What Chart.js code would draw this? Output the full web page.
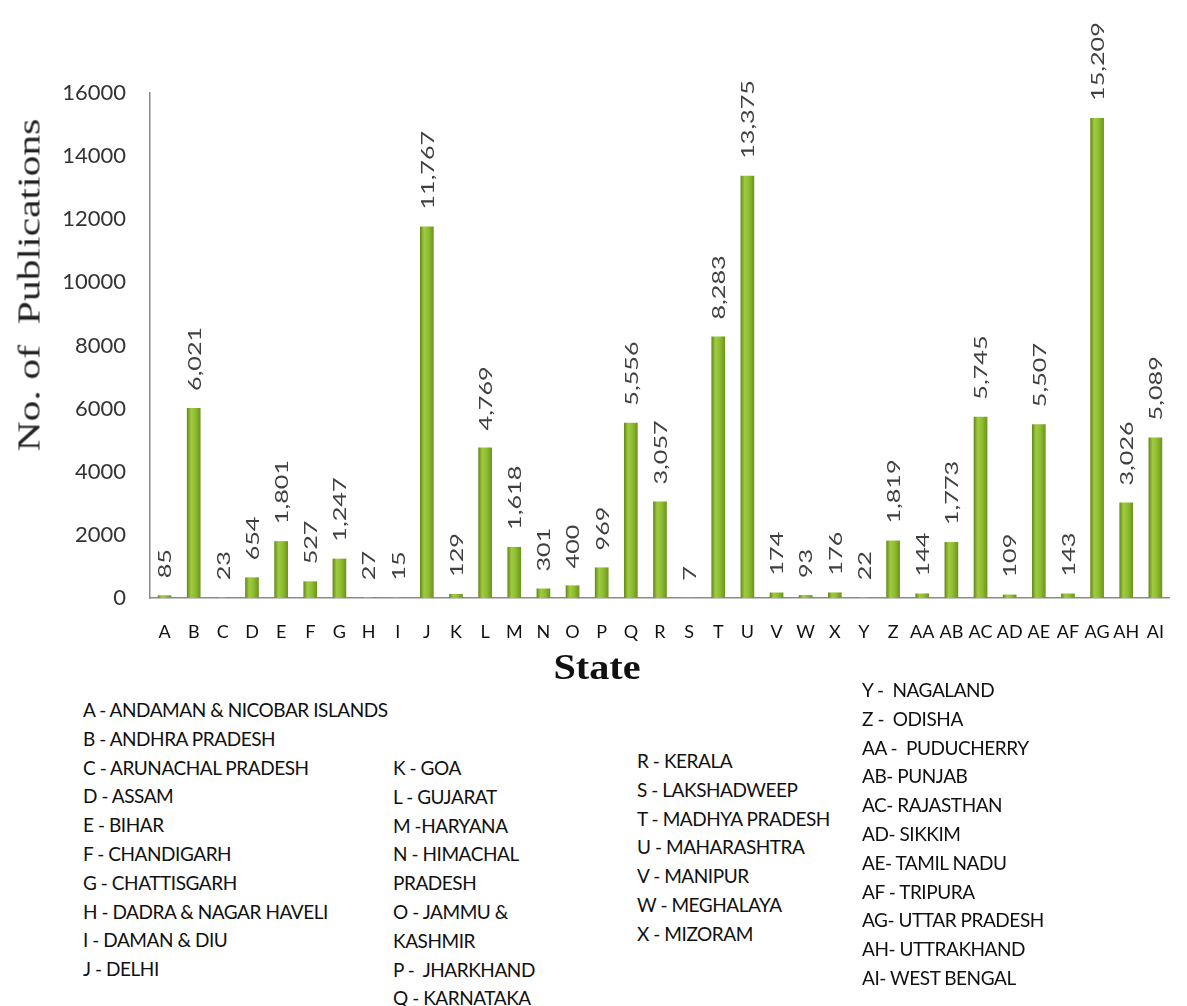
<!DOCTYPE html>
<html>
<head>
<meta charset="utf-8">
<script src="https://cdn.jsdelivr.net/npm/chart.js@4.4.1/dist/chart.umd.min.js"></script>
<style>
  body { margin: 0; background: #fff; width: 1187px; height: 1006px; overflow: hidden; position: relative; }
  #wrap { position: absolute; left: 0; top: 0; width: 1187px; height: 690px; }
  .key { position: absolute; font-family: Lato, "Open Sans", sans-serif; font-size: 19px; color: #111;
         letter-spacing: -0.45px; line-height: 28.8px; white-space: pre; }
  .title { position: absolute; white-space: pre; font-family: "Liberation Serif", serif; color: #111; }
  #yTitle { left: 29px; top: 285px; font-size: 32px; color: #222; transform: translate(-50%, -50%) rotate(-90deg) scaleX(1.3); }
  #xTitle { left: 597px; top: 668px; font-size: 35px; font-weight: bold; transform: translate(-50%, -50%) scaleX(1.15); }
</style>
</head>
<body>
<div id="wrap"><canvas id="stateChart"></canvas></div>
<div class="title" id="yTitle"></div>
<div class="title" id="xTitle"></div>
<div class="key" id="key1" style="left:83px; top:696px;"></div>
<div class="key" id="key2" style="left:393px; top:754px;"></div>
<div class="key" id="key3" style="left:637px; top:747px;"></div>
<div class="key" id="key4" style="left:862px; top:676px;"></div>
<script>
// categories and values
const states = ['A', 'B', 'C', 'D', 'E', 'F', 'G', 'H', 'I', 'J', 'K', 'L', 'M', 'N', 'O', 'P', 'Q', 'R',
    'S', 'T', 'U', 'V', 'W', 'X', 'Y', 'Z', 'AA', 'AB', 'AC', 'AD', 'AE', 'AF', 'AG', 'AH', 'AI'];
const publications = [85, 6021, 23, 654, 1801, 527, 1247, 27, 15, 11767, 129, 4769, 1618, 301, 400, 969, 5556, 3057,
    7, 8283, 13375, 174, 93, 176, 22, 1819, 144, 1773, 5745, 109, 5507, 143, 15209, 3026, 5089];
const yTicks = [0, 2000, 4000, 6000, 8000, 10000, 12000, 14000, 16000];
const yTitle = 'No. of  Publications';
const xTitle = 'State';

// key text under the chart
const key1 = ['A - ANDAMAN & NICOBAR ISLANDS', 'B - ANDHRA PRADESH', 'C - ARUNACHAL PRADESH', 'D - ASSAM', 'E - BIHAR',
    'F - CHANDIGARH', 'G - CHATTISGARH', 'H - DADRA & NAGAR HAVELI', 'I - DAMAN & DIU', 'J - DELHI'];
const key2 = ['K - GOA', 'L - GUJARAT', 'M -HARYANA', 'N - HIMACHAL', 'PRADESH', 'O - JAMMU &', 'KASHMIR',
    'P -  JHARKHAND', 'Q - KARNATAKA'];
const key3 = ['R - KERALA', 'S - LAKSHADWEEP', 'T - MADHYA PRADESH', 'U - MAHARASHTRA', 'V - MANIPUR',
    'W - MEGHALAYA', 'X - MIZORAM'];
const key4 = ['Y -  NAGALAND', 'Z -  ODISHA', 'AA -  PUDUCHERRY', 'AB- PUNJAB', 'AC- RAJASTHAN', 'AD- SIKKIM',
    'AE- TAMIL NADU', 'AF - TRIPURA', 'AG- UTTAR PRADESH', 'AH- UTTRAKHAND', 'AI- WEST BENGAL'];

document.getElementById('yTitle').textContent = yTitle;
document.getElementById('xTitle').textContent = xTitle;
document.getElementById('key1').textContent = key1.join('\n');
document.getElementById('key2').textContent = key2.join('\n');
document.getElementById('key3').textContent = key3.join('\n');
document.getElementById('key4').textContent = key4.join('\n');

// green cylinder look for each bar
function barFill(context) {
    const chart = context.chart;
    if (!chart.chartArea || !chart.scales.x) return '#8ab33a';
    const x = chart.scales.x.getPixelForValue(context.dataIndex);
    const g = chart.ctx.createLinearGradient(x - 7, 0, x + 7, 0);
    g.addColorStop(0, '#5f8416');
    g.addColorStop(0.3, '#9fcb40');
    g.addColorStop(0.6, '#8fbd32');
    g.addColorStop(1, '#6a921c');
    return g;
}

// rotated value labels above bars
const valueLabels = {
    id: 'valueLabels',
    afterDatasetsDraw(chart) {
        const ctx = chart.ctx;
        const meta = chart.getDatasetMeta(0);
        ctx.save();
        ctx.font = '18px Lato, sans-serif';
        ctx.fillStyle = '#404040';
        ctx.textAlign = 'left';
        ctx.textBaseline = 'middle';
        meta.data.forEach((bar, i) => {
            ctx.save();
            ctx.translate(bar.x + 1, bar.y - 17);
            ctx.rotate(-Math.PI / 2);
            ctx.scale(1.4, 1);
            ctx.fillText(publications[i].toLocaleString('en-US'), 0, 0);
            ctx.restore();
        });
        ctx.restore();
    }
};

const ctx = document.getElementById('stateChart').getContext('2d');
const stateChart = new Chart(ctx, {
    type: 'bar',
    data: {
        labels: states,
        datasets: [{
            data: publications,
            backgroundColor: barFill,
            barPercentage: 0.47,
            categoryPercentage: 1
        }]
    },
    options: {
        responsive: true,
        maintainAspectRatio: false,
        animation: false,
        layout: { padding: { top: 93, right: 0, left: 0, bottom: 0 } },
        plugins: { legend: { display: false }, tooltip: { enabled: false } },
        scales: {
            x: {
                grid: { display: false, drawTicks: false },
                border: { color: '#8c8c8c', width: 1.5 },
                ticks: { color: '#111', padding: 23, font: { family: 'Lato', size: 18 }, maxRotation: 0, autoSkip: false },
                afterFit(scale) { scale.height = 92; }
            },
            y: {
                min: 0, max: 16000,
                afterBuildTicks(scale) { scale.ticks = yTicks.map(v => ({ value: v })); },
                grid: { display: false, drawTicks: false },
                border: { color: '#8c8c8c', width: 1.5 },
                ticks: { color: '#333', padding: 24, font: { family: 'Lato', size: 22 }, callback: v => String(v) },
                afterFit(scale) { scale.width = 150; }
            }
        }
    },
    plugins: [valueLabels]
});
</script>
</body>
</html>
